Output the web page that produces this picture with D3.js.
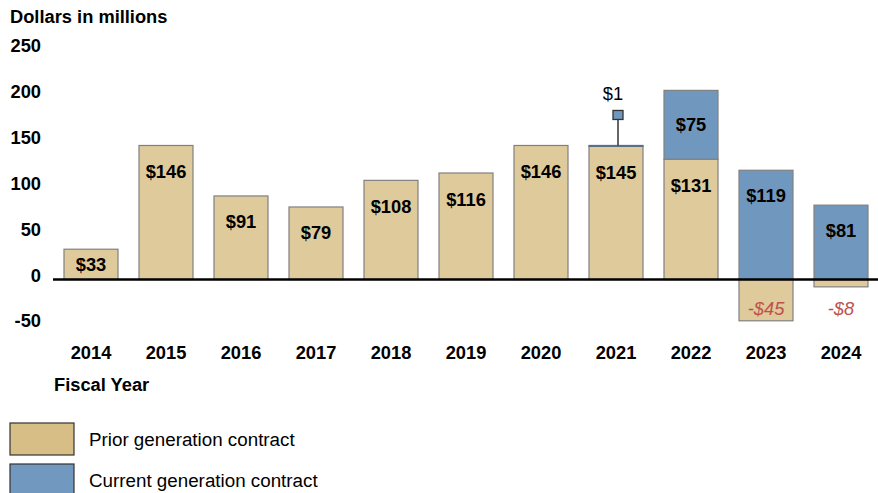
<!DOCTYPE html>
<html><head><meta charset="utf-8">
<script src="https://cdn.jsdelivr.net/npm/d3@7"></script>
<style>
body{margin:0;background:#fff;}
text{font-family:"Liberation Sans",Arial,sans-serif;}
</style></head>
<body><svg id="chart" width="878" height="493"></svg>
<script>
const years = ["2014","2015","2016","2017","2018","2019","2020","2021","2022","2023","2024"];
const prior = [33,146,91,79,108,116,146,145,131,-45,-8];
const current = [0,0,0,0,0,0,0,1,75,119,81];
const yTicks = [250,200,150,100,50,0,-50];
const seriesNames = ["Prior generation contract","Current generation contract"];

const svg = d3.select("#chart");
const tan = "#DECA9B", blue = "#7098BF", edge = "#808080";
const fs = 18.3;
const x = d3.scaleBand().domain(years).range([53.5,878.5]).paddingInner(0.28).paddingOuter(0.14);
const y = d3.scaleLinear().domain([-50,250]).range([325.4,50]);

svg.append("text").attr("x",10).attr("y",23).attr("font-size",fs).attr("font-weight","bold").text("Dollars in millions");

// y tick labels
svg.selectAll(".yt").data(yTicks).enter().append("text")
  .attr("x",41).attr("y",d=>y(d)+2).attr("text-anchor","end")
  .attr("font-size",fs).attr("font-weight","bold").text(d=>d);

const rows = years.map((yr,i)=>({yr,p:prior[i],c:current[i]}));

// prior bars
svg.selectAll(".pb").data(rows).enter().append("rect")
  .attr("x",d=>x(d.yr)).attr("width",x.bandwidth())
  .attr("y",d=>y(Math.max(0,d.p))).attr("height",d=>Math.abs(y(d.p)-y(0)))
  .attr("fill",tan).attr("stroke",edge).attr("stroke-width",1.2);
// current bars stacked on positive prior
svg.selectAll(".cb").data(rows.filter(d=>d.c>0)).enter().append("rect")
  .attr("x",d=>x(d.yr)).attr("width",x.bandwidth())
  .attr("y",d=>y(Math.max(0,d.p)+d.c)).attr("height",d=>y(0)-y(d.c))
  .attr("fill",blue).attr("stroke",d=>d.c<5?"#5a6f85":edge).attr("stroke-width",1.2);

// zero line
svg.append("line").attr("x1",53).attr("x2",878).attr("y1",y(0)).attr("y2",y(0))
  .attr("stroke","#000").attr("stroke-width",2.6);

// labels for positive prior
svg.selectAll(".pl").data(rows.filter(d=>d.p>0)).enter().append("text")
  .attr("x",d=>x(d.yr)+x.bandwidth()/2)
  .attr("y",d=>{const top=y(d.p), h=y(0)-top; return top+Math.min(26,h/2)+6.5;})
  .attr("text-anchor","middle").attr("font-size",fs).attr("font-weight","bold").text(d=>"$"+d.p);
// labels for current (large)
svg.selectAll(".cl").data(rows.filter(d=>d.c>5)).enter().append("text")
  .attr("x",d=>x(d.yr)+x.bandwidth()/2)
  .attr("y",d=>{const base=Math.max(0,d.p); const top=y(base+d.c), h=y(base)-y(base+d.c); return (d.p>0? top+h/2 : top+25)+6.5;})
  .attr("text-anchor","middle").attr("font-size",fs).attr("font-weight","bold").text(d=>"$"+d.c);
// negative labels
svg.selectAll(".nl").data(rows.filter(d=>d.p<0)).enter().append("text")
  .attr("x",d=>x(d.yr)+x.bandwidth()/2).attr("y",y(0)+35)
  .attr("text-anchor","middle").attr("font-size",fs).attr("font-style","italic")
  .attr("fill","#C0504D").text(d=>"-$"+Math.abs(d.p));
// callout for tiny current segment
const small = rows.filter(d=>d.c>0 && d.c<=5);
small.forEach(d=>{
  const cx = x(d.yr)+x.bandwidth()/2+2;
  const top = y(d.p+d.c);
  svg.append("line").attr("x1",cx).attr("x2",cx).attr("y1",top).attr("y2",top-27).attr("stroke","#333").attr("stroke-width",1.5);
  svg.append("rect").attr("x",cx-5).attr("y",top-35).attr("width",10).attr("height",9)
    .attr("fill",blue).attr("stroke","#333").attr("stroke-width",1.3);
  svg.append("text").attr("x",cx-5).attr("y",top-45).attr("text-anchor","middle").attr("font-size",fs).text("$"+d.c);
});

// x labels
svg.selectAll(".xl").data(years).enter().append("text")
  .attr("x",d=>x(d)+x.bandwidth()/2).attr("y",359).attr("text-anchor","middle")
  .attr("font-size",fs).attr("font-weight","bold").text(d=>d);
svg.append("text").attr("x",54).attr("y",391).attr("font-size",fs).attr("font-weight","bold").text("Fiscal Year");

// legend
const legColors = ["#D6BE86","#7199C0"];
seriesNames.forEach((n,i)=>{
  svg.append("rect").attr("x",10).attr("y",423+i*41).attr("width",64).attr("height",32)
    .attr("fill",legColors[i]).attr("stroke","#333").attr("stroke-width",1.2);
  svg.append("text").attr("x",89).attr("y",445.5+i*41).attr("font-size",18.8).text(n);
});
</script></body></html>
